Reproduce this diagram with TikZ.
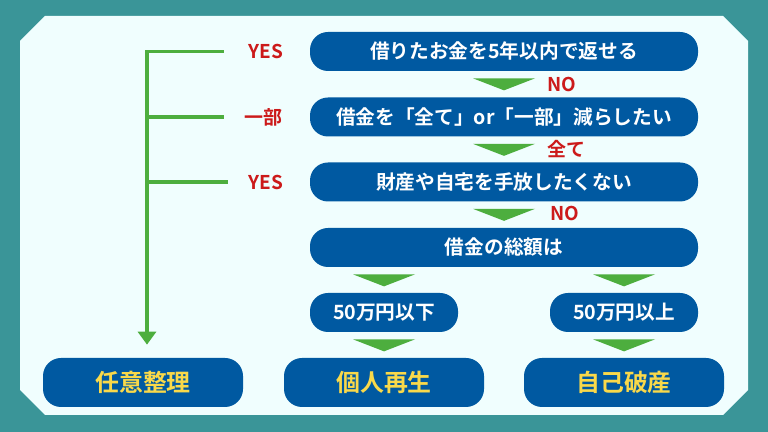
\documentclass[tikz,border=0pt]{standalone}
\usepackage{fontspec}
\newfontfamily\jpfont{Noto Sans CJK JP Bold}
\usetikzlibrary{arrows.meta, calc}
\definecolor{sdTeal}{HTML}{3A9598}
\definecolor{sdPanel}{HTML}{F0FEFE}
\definecolor{sdBlue}{HTML}{0059A1}
\definecolor{sdGreen}{HTML}{4DAE3E}
\definecolor{sdRed}{HTML}{CC1A1A}
\definecolor{sdYellow}{HTML}{F9D94A}
\tikzset{
  question/.style = {fill=sdBlue, text=white, rounded corners=0.36cm, inner sep=0pt,
                     minimum width=7.76cm, minimum height=0.78cm,
                     font=\jpfont\fontsize{11.2}{12}\selectfont},
  amount/.style   = {question, minimum width=2.96cm},
  result/.style   = {question, minimum width=4cm, minimum height=0.98cm, text=sdYellow,
                     font=\jpfont\fontsize{13.6}{15}\selectfont},
  answer/.style   = {text=sdRed, inner sep=0pt, font=\jpfont\fontsize{10.8}{12}\selectfont},
  branch/.style   = {sdGreen, line width=2pt},
  flowtri/.pic    = {\fill[sdGreen] (-0.62,0) -- (0.62,0) -- (0,-0.24) -- cycle;},
}

\begin{document}
\begin{tikzpicture}
  \useasboundingbox (0,0) rectangle (15.36,8.64);
  \fill[sdTeal] (0,0) rectangle (15.36,8.64);
  % the panel with cut corners
  \fill[sdPanel] (0.4,0.84) -- (0.4,7.82) -- (0.9,8.32) -- (14.46,8.32) -- (14.96,7.82)
    -- (14.96,0.84) -- (14.46,0.34) -- (0.9,0.34) -- cycle;

  % questions
  \node[question] (q1) at (10.08,7.61) {借りたお金を5年以内で返せる};
  \node[question] (q2) at (10.08,6.30) {借金を「全て」or「一部」減らしたい};
  \node[question] (q3) at (10.08,5.00) {財産や自宅を手放したくない};
  \node[question] (q4) at (10.08,3.69) {借金の総額は};
  \node[amount] (lo) at (7.68,2.39) {50万円以下};
  \node[amount] (hi) at (12.48,2.39) {50万円以上};

  % results
  \node[result] (nin)   at (2.86,0.99)  {任意整理};
  \node[result] (kojin) at (7.68,0.99)  {個人再生};
  \node[result] (hasan) at (12.48,0.99) {自己破産};

  % the green arrows down
  \pic at ($(q1.south)+(0,-0.14)$) {flowtri};
  \pic at ($(q2.south)+(0,-0.14)$) {flowtri};
  \pic at ($(q3.south)+(0,-0.14)$) {flowtri};
  \pic at ($(q4.south -| lo)+(0,-0.14)$) {flowtri};
  \pic at ($(q4.south -| hi)+(0,-0.14)$) {flowtri};
  \pic at ($(lo.south)+(0,-0.14)$) {flowtri};
  \pic at ($(hi.south)+(0,-0.14)$) {flowtri};

  \node[answer, anchor=west] (no1)  at ($(q1.south)+(0.86,-0.26)$) {NO};
  \node[answer, anchor=west] (all)  at ($(q2.south)+(0.86,-0.24)$) {全て};
  \node[answer, anchor=west] (no2)  at ($(q3.south)+(0.92,-0.24)$) {NO};

  \node[answer, anchor=east] (yes1) at ($(q1.west)+(-0.52,0)$) {YES};
  \node[answer, anchor=east] (part) at ($(q2.west)+(-0.54,0)$) {一部};
  \node[answer, anchor=east] (yes2) at ($(q3.west)+(-0.52,0)$) {YES};

  % the branch to the left
  \coordinate (trunk) at ($(nin.north)+(0.08,0)$);
  \coordinate (b1) at ($(q1.west)+(-1.72,0)$);
  \coordinate (b2) at ($(q2.west)+(-1.72,0)$);
  \coordinate (b3) at ($(q3.west)+(-1.64,0)$);
  \draw[branch, -{Triangle[width=0.36cm, length=0.26cm]}, shorten >=0.26cm]
    (b1) -| (trunk);
  \draw[branch] (b2) -- (b2 -| trunk);
  \draw[branch] (b3) -- (b3 -| trunk);
\end{tikzpicture}
\end{document}
